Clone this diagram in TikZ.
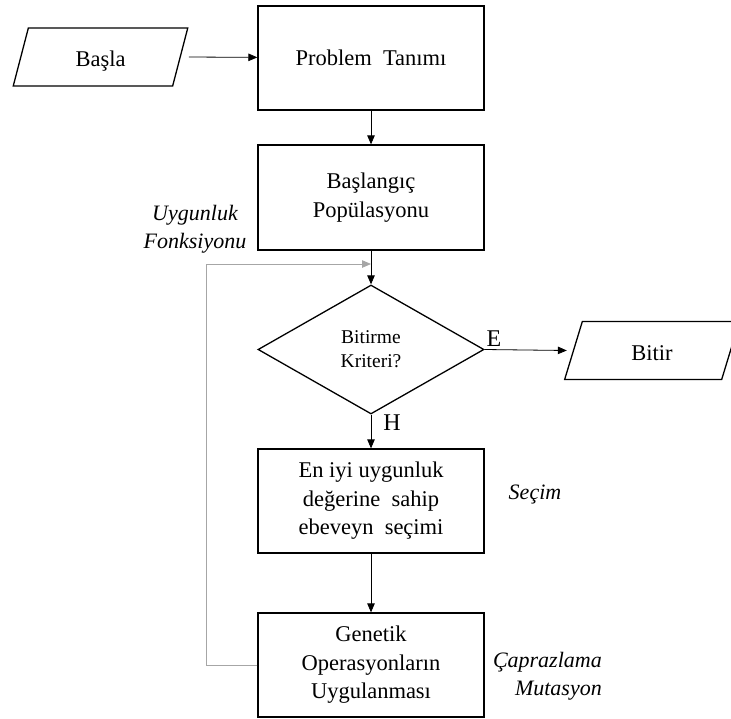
\documentclass[tikz,border=0pt]{standalone}
\usepackage{fontspec}
\setmainfont{Liberation Serif}
\usetikzlibrary{shapes.geometric,arrows.meta}
\tikzset{
  box/.style={draw, line width=1.3pt, minimum width=226pt, minimum height=104pt,
    inner sep=0pt, align=center, font=\fontsize{22.5}{28.5}\selectfont},
  io/.style={draw, trapezium, trapezium left angle=76, trapezium right angle=104,
    trapezium stretches=true, minimum width=175pt, minimum height=58pt,
    text height=20pt, text depth=1pt,
    line width=1.3pt, inner sep=0pt, font=\fontsize{22.5}{28}\selectfont},
  decision/.style={draw, diamond, minimum width=226pt, minimum height=129pt,
    line width=1.3pt, inner sep=0pt, align=center, font=\fontsize{19.5}{24}\selectfont},
  note/.style={inner sep=0pt, font=\fontsize{22}{28}\selectfont\itshape},
  answer/.style={inner sep=0pt, font=\fontsize{24}{28}\selectfont},
  flow/.style={-{Triangle[length=9pt,width=7.5pt]}, line width=0.8pt},
  back/.style={flow, draw=gray!70}
}
\begin{document}
\begin{tikzpicture}[x=1pt, y=-1pt]
    \useasboundingbox (0,0) rectangle (731,718);
    % nodes
    \node[io] (start) at (100.5, 57) {Başla};
    \node[box] (problem) at (371, 58) {Problem\ \ Tanımı};
    \node[box, minimum height=105pt] (init) at (371, 197.5) {Başlangıç\\Popülasyonu};
    \node[decision] (stop) at (371, 349.5) {Bitirme\\Kriteri?};
    \node[io] (finish) at (652, 350.5) {Bitir};
    \node[box] (select) at (371, 501) {En iyi uygunluk\\değerine\ \ sahip\\ebeveyn\ \ seçimi};
    \node[box] (genetic) at (371, 665) {Genetik\\Operasyonların\\Uygulanması};
    % labels
    \node[note, align=center] (fitness) at (195, 229) {Uygunluk\\Fonksiyonu};
    \node[note] (selnote) at (535, 495) {Seçim};
    \node[note, align=right, anchor=east] (opnote) at (602, 676) {Çaprazlama\\Mutasyon};
    \node[answer] (yes) at (494, 339) {E};
    \node[answer] (no) at (392, 423) {H};
    % connectors
    \draw[flow] ([xshift=8pt]start.east) -- (problem);
    \draw[flow] (problem) -- (init);
    \draw[flow] (init) -- (stop);
    \draw[flow] (stop.east) -- ([xshift=-6pt]finish.west);
    \draw[flow] (stop) -- (select);
    \draw[flow] (select) -- (genetic);
    \coordinate (turn) at (206, 264);
    \draw[back] (genetic.west) -| (turn) -- (turn -| stop.north);
\end{tikzpicture}
\end{document}
